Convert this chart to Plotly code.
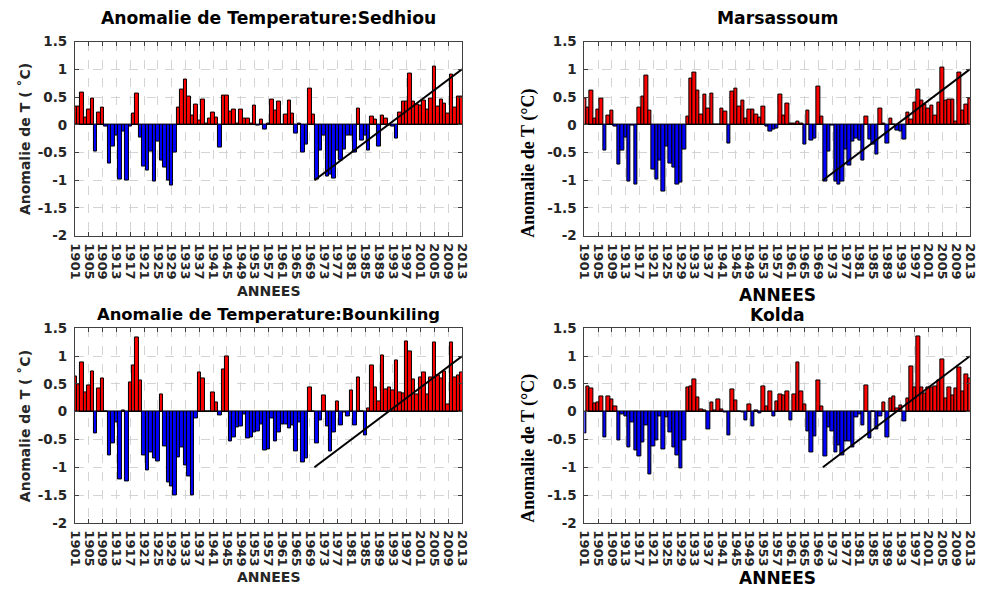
import plotly.graph_objects as go

years = list(range(1901, 2014))
tick_years = years[::4]

sedhiou = [0.33, 0.33, 0.58, 0.13, 0.27, 0.47, -0.48, 0.22, 0.31, -0.03,
           -0.70, -0.39, -0.19, -0.99, -0.12, -1.0, -0.03, 0.20, 0.56, -0.23,
           -0.76, -0.82, -0.48, -1.03, -0.30, -0.64, -0.78, -1.0, -1.1, -0.5,
           0.31, 0.63, 0.82, 0.50, 0.17, 0.36, 0.07, 0.46, 0.03, 0.12,
           0.22, 0.13, -0.415, 0.52, 0.52, 0.245, 0.28, 0.03, 0.27, 0.105,
           0.105, 0.03, 0.345, -0.01, 0.09, -0.08, 0.02, 0.46,
           0.26, 0.41, 0.01, 0.175, 0.44, 0.2, -0.16, 0.02, -0.51, -0.35,
           0.65, 0.175, -0.99, -0.46, -0.2, -0.94, -0.9, -0.97, -0.46, -0.65,
           -0.45, -0.19, -0.19, -0.5, 0.30, -0.29, -0.19, -0.46, 0.14, 0.10,
           -0.39, 0.17, 0.11, -0.01, -0.04, -0.24, 0.22, 0.41, 0.41, 0.93,
           0.42, 0.37, 0.345, 0.44, 0.27, 0.47, 1.05, 0.33, 0.45, 0.38,
           0.2, 0.9, 0.31, 0.5, 0.5]

marsassoum = [0.47, 0.31, 0.61, 0.105, 0.28, 0.47, -0.47, 0.16, 0.26, -0.04,
              -0.72, -0.46, -0.23, -1.02, -0.01, -1.08, 0.31, 0.5, 0.88, 0.26,
              -0.8, -0.99, -0.64, -1.21, -0.4, -0.7, -0.78, -1.08, -1.05, -0.44,
              0.15, 0.84, 0.95, 0.61, 0.19, 0.54, 0.3, 0.57, 0.0, 0.01,
              0.3, 0.24, -0.34, 0.6, 0.65, 0.33, 0.44, 0.11, 0.28, 0.28,
              0.19, 0.13, 0.33, -0.04, -0.13, -0.09, -0.06,
              0.54, 0.17, 0.39, 0.02, 0.02, 0.06, 0.03, -0.36, 0.25, -0.29,
              -0.25, 0.68, 0.15,
              -1.02, -0.48, -0.02, -1.02, -1.08, -1.02, -0.45, -0.73, -0.31, -0.24,
              -0.29, -0.64,
              0.15, -0.26, -0.35, -0.53, 0.3, 0.03, -0.34, 0.105, 0.01, -0.105,
              -0.13, -0.26,
              0.22, 0.09, 0.4, 0.64, 0.43, 0.36, 0.3, 0.345, 0.17, 0.4,
              1.035, 0.43, 0.46, 0.46, 0.065, 0.95, 0.25, 0.36, 0.47]

bounkiling = [0.63, 0.5, 0.88, 0.35, 0.47, 0.72, -0.4, 0.42, 0.6, 0.01,
              -0.78, -0.57, -0.19, -1.22, 0.02, -1.25, 0.52, 0.84, 1.33, 0.56,
              -0.78, -1.05, -0.73, -0.85, -0.89, 0.32, -0.63, -1.27, -1.35, -1.51,
              -0.82, -0.64, -0.97, -1.16, -1.51, -0.12, 0.7, 0.6, 0.01, 0.01,
              0.345, 0.17, -0.06, 0.77, 0.99, -0.54, -0.46, -0.29, -0.27, -0.05,
              -0.48, -0.46, -0.37, -0.35, -0.23, -0.7, -0.68, -0.12,
              -0.54, -0.37, -0.23, -0.23, -0.3, -0.25, -0.72, -0.19, -0.91, -0.84,
              0.44, 0.01, -0.58, -0.16, 0.3, -0.27, -0.71, -0.37, 0.19, -0.24,
              -0.02, -0.08, 0.38, -0.24, 0.61, 0.0, -0.43, 0.065, 0.84, 0.44,
              0.19, 1.02, 0.4, 0.44, 0.38, 0.92, 0.345, 0.33, 1.27, 1.08,
              0.58, 0.31, 0.62, 0.7, 0.31, 0.61, 1.24, 0.65, 0.6, 0.73,
              0.14, 1.24, 0.62, 0.66, 0.7]

kolda = [-0.4, 0.46, 0.415, 0.15, 0.16, 0.27, -0.46, 0.27, 0.22, 0.1,
         -0.51, -0.05, -0.08, -0.64, -0.19, -0.7, -0.81, -0.55, -0.24, -1.13,
         -0.62, -0.52, -0.08, -0.68, -0.11, -0.38, -0.64, -0.78, -1.03, -0.52,
         0.43, 0.46, 0.58, 0.26, 0.05, 0.02, -0.32, 0.16, 0.03, 0.22,
         0.05, -0.01, -0.43, 0.4, 0.2, 0.01, -0.01, -0.16, 0.14, -0.27,
         0.03, -0.035, 0.45, 0.09, 0.37, -0.08, 0.19,
         0.32, 0.29, 0.36, -0.15, 0.32, 0.89, 0.36, 0.13, -0.35, -0.74,
         -0.44, 0.56, 0.1, -0.8, -0.28, -0.36, -0.74, -0.6, -0.79, -0.54,
         -0.53, -0.65, -0.11, -0.04, -0.25, 0.48, -0.48, 0.01, -0.32, -0.08,
         0.17, -0.46, 0.24, 0.27, 0.06, 0.12, -0.18, 0.24, 0.82, 0.43,
         1.36, 0.44, 0.33, 0.43, 0.44, 0.46, 0.56, 0.94, 0.24, 0.44,
         0.3, 0.415, 0.8, 0.37, 0.67, 0.6]

trend_x = [1970.3, 2013]
trend_y = [-1.0, 1.0]

titles = ["Anomalie de Temperature:Sedhiou", "Marsassoum",
          "Anomalie de Temperature:Bounkiling", "Kolda"]
ytick_vals = [-2, -1.5, -1, -0.5, 0, 0.5, 1, 1.5]
ytick_text = ["-2", "-1.5", "-1", "-0.5", "0", "0.5", "1", "1.5"]

for s in (sedhiou, marsassoum, bounkiling, kolda):
    assert len(s) == len(years), len(s)

W, H = 985, 595
# plot boxes in pixels: (left, right, top, bottom)
boxes = [(69, 462, 34.5, 234), (586.3, 977.7, 34.5, 234),
         (69, 462, 329.3, 529), (586.3, 977.7, 329.3, 529)]

fig = go.Figure()
series = [sedhiou, marsassoum, bounkiling, kolda]
TXT = "#262626"
for i, vals in enumerate(series):
    sfx = "" if i == 0 else str(i + 1)
    fig.add_trace(go.Bar(
        x=years, y=vals, width=1,
        marker=dict(color=["#ff0000" if v >= 0 else "#0000ff" for v in vals],
                    line=dict(color="black", width=1)),
        xaxis="x" + sfx, yaxis="y" + sfx, showlegend=False, hoverinfo="skip"))
    fig.add_trace(go.Scatter(
        x=trend_x, y=trend_y, mode="lines", line=dict(color="black", width=2),
        xaxis="x" + sfx, yaxis="y" + sfx, showlegend=False, hoverinfo="skip"))
    l, r, t, b = boxes[i]
    common = dict(showline=True, linecolor="#404040", linewidth=1, mirror="ticks",
                  ticks="inside", ticklen=4, tickcolor="#404040",
                  showgrid=True, gridcolor="#d4d4d4", griddash="dash", gridwidth=1,
                  ticklabelstandoff=4)
    fig.layout["xaxis" + sfx] = dict(
        domain=[l / W, r / W], anchor="y" + sfx, range=[1901, 2013],
        tickmode="array", tickvals=tick_years, ticktext=[str(y) for y in tick_years],
        tickangle=90, zeroline=False,
        tickfont=dict(family="DejaVu Sans", size=13, color=TXT, weight="bold"),
        **common)
    fig.layout["yaxis" + sfx] = dict(
        domain=[1 - b / H, 1 - t / H], anchor="x" + sfx, range=[-2, 1.5],
        tickmode="array", tickvals=ytick_vals, ticktext=ytick_text,
        zeroline=True, zerolinecolor="black", zerolinewidth=1,
        tickfont=dict(family="DejaVu Sans", size=13.5, color=TXT, weight="bold"),
        **common)

ann = []
def add(text, x, y, size, family="DejaVu Sans", color="black", angle=0):
    ann.append(dict(text=text, x=x / W, y=1 - y / H, xref="paper", yref="paper",
                    showarrow=False, xanchor="center", yanchor="middle",
                    textangle=angle,
                    font=dict(family=family, size=size, color=color, weight="bold")))

add(titles[0], 265.5, 10, 17.2)
add(titles[1], 782, 10, 17.2)
add(titles[2], 265.5, 315, 16.4)
add(titles[3], 782, 315, 17.2)

add("ANNEES", 265.5, 291, 14, color=TXT)
add("ANNEES", 782, 295, 17)
add("ANNEES", 265.5, 585, 14, color=TXT)
add("ANNEES", 782, 586, 17)

add("Anomalie de T ( \u02daC)", 19, 135, 14, color=TXT, angle=-90)
add("Anomalie de T ( \u02daC)", 19, 430, 14, color=TXT, angle=-90)
add("Anomalie de T (\u00b0C)", 530, 159, 18, family="Liberation Serif", angle=-90)
add("Anomalie de T (\u00b0C)", 530, 452, 18, family="Liberation Serif", angle=-90)

fig.update_layout(width=W, height=H, margin=dict(l=0, r=0, t=0, b=0),
                  paper_bgcolor="white", plot_bgcolor="white",
                  bargap=0, showlegend=False, annotations=ann)

fig.write_html("out.html")
